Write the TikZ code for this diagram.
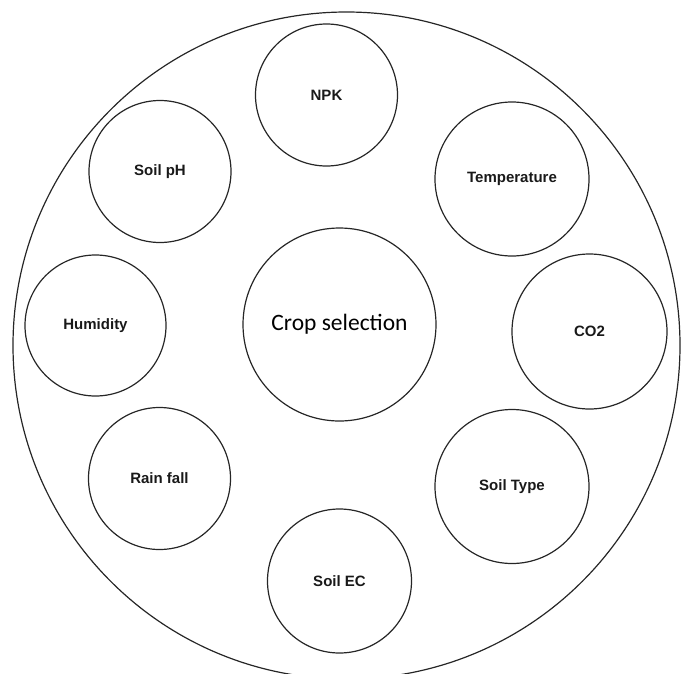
\documentclass[tikz,border=0pt]{standalone}
\usepackage{fontspec}
\setmainfont{Liberation Sans}
\newfontfamily\cropfont{Carlito}
\begin{document}
\begin{tikzpicture}[x=1pt,y=-1pt,
  ring/.style={circle,draw=black!85,line width=1.2pt,inner sep=0pt,minimum size=#1},
  factor/.style={ring=#1,font=\fontsize{15}{18}\selectfont\bfseries,text=black!90},
]
\useasboundingbox (0,0) rectangle (686,673);
\clip (0,0) rectangle (686,673);
\node[ring=667pt] (outer) at (346.5,345.5) {};
\node[ring=193pt,font=\cropfont\fontsize{23.5}{28}\selectfont] (crop) at (339.5,324.5) {Crop selection};
\node[factor=142pt] (npk) at (326.5,95) {NPK};
\node[factor=154pt] (temp) at (512,179) {Temperature};
\node[factor=155pt] (co2) at (589.5,331.5) {CO2};
\node[factor=154pt] (stype) at (512,486.5) {Soil Type};
\node[factor=144pt] (sec) at (339.5,581) {Soil EC};
\node[factor=142pt] (rain) at (159.5,478.5) {Rain fall};
\node[factor=141pt] (hum) at (95.5,325.5) {Humidity};
\node[factor=142pt] (ph) at (160,171.5) {Soil pH};
\end{tikzpicture}
\end{document}
